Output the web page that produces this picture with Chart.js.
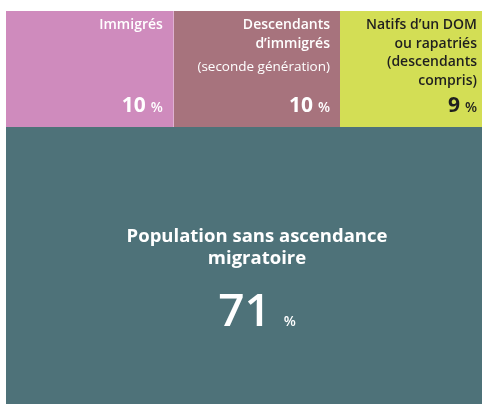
<!DOCTYPE html>
<html>
<head>
<meta charset="utf-8">
<script src="https://cdn.jsdelivr.net/npm/chart.js@4/dist/chart.umd.min.js"></script>
<style>
  body { margin: 0; background: #ffffff; }
</style>
</head>
<body>
<canvas id="treemap" width="482" height="404"></canvas>

<script>
  // Données : part de la population (%)
  const categories = [
    "Immigrés",
    "Descendants d’immigrés (seconde génération)",
    "Natifs d’un DOM ou rapatriés (descendants compris)",
    "Population sans ascendance migratoire",
  ];
  const shares = [10.4, 10.3, 8.8, 70.5];
  const shownValues = [10, 10, 9, 71]; // valeurs affichées (arrondies)

  // Lignes de texte de chaque pavé
  const titleLines = [
    ["Immigrés"],
    ["Descendants", "d’immigrés"],
    ["Natifs d’un DOM", "ou rapatriés", "(descendants", "compris)"],
    ["Population sans ascendance", "migratoire"],
  ];
  const noteLines = ["", "(seconde génération)", "", ""];

  const colors = ["#cf8bbd", "#a7737d", "#d3de55", "#4e7279"];
  const textColors = ["#ffffff", "#ffffff", "#1f1f1f", "#ffffff"];
  const rightPad = [11, 10, 5];

  // Pavés : rangée du haut (3 premières catégories) + grand pavé du bas
  const topSum = shares[0] + shares[1] + shares[2];
  const rects = [];
  let cum = 0;
  for (let i = 0; i < 3; i++) {
    rects.push({ x0: cum, x1: cum + shares[i], y0: 100 - topSum, y1: 100 });
    cum += shares[i];
  }
  rects.push({ x0: 0, x1: topSum, y0: 0, y1: 100 - topSum });

  const sepColor = "rgba(255,255,255,0.75)";

  const datasets = rects.map((r, i) => ({
    label: categories[i],
    data: [
      { x: r.x0, y: r.y1 },
      { x: r.x1, y: r.y1 },
    ],
    backgroundColor: colors[i],
    borderWidth: 0,
    pointRadius: 0,
    fill: { value: r.y0 },
  }));

  // Séparateurs fins entre les pavés
  datasets.push({
    data: [
      { x: 0, y: 100 - topSum },
      { x: topSum, y: 100 - topSum },
    ],
    borderColor: sepColor,
    borderWidth: 1,
    pointRadius: 0,
    fill: false,
  });
  for (let i = 0; i < 2; i++) {
    datasets.push({
      data: [
        { x: rects[i].x1, y: 100 - topSum },
        { x: rects[i].x1, y: 100 },
      ],
      borderColor: sepColor,
      borderWidth: 1,
      pointRadius: 0,
      fill: false,
    });
  }

  const FONT = "'Open Sans', 'Noto Sans', sans-serif";

  // Textes des pavés
  const labelsPlugin = {
    id: "treemapLabels",
    afterDatasetsDraw(chart) {
      const ctx = chart.ctx;
      const xs = chart.scales.x;
      const ys = chart.scales.y;
      ctx.save();
      ctx.textBaseline = "alphabetic";

      for (let i = 0; i < 3; i++) {
        const r = rects[i];
        const right = xs.getPixelForValue(r.x1) - rightPad[i];
        const top = ys.getPixelForValue(r.y1);
        const bottom = ys.getPixelForValue(r.y0);
        ctx.fillStyle = textColors[i];
        ctx.textAlign = "right";

        ctx.font = "600 14px " + FONT;
        let y = top + 18;
        titleLines[i].forEach((line) => {
          ctx.fillText(line, right, y);
          y += 18.5;
        });
        if (noteLines[i]) {
          ctx.font = "400 13.5px " + FONT;
          ctx.fillText(noteLines[i], right, y + 5);
        }

        // valeur
        const vy = bottom - 15;
        ctx.font = "600 14px " + FONT;
        ctx.fillText("%", right, vy);
        const pw = ctx.measureText("%").width;
        ctx.font = "700 21px " + FONT;
        ctx.fillText(String(shownValues[i]), right - pw - 5, vy);
      }

      // grand pavé
      const r = rects[3];
      const cx = (xs.getPixelForValue(r.x0) + xs.getPixelForValue(r.x1)) / 2 + 13;
      const top = ys.getPixelForValue(r.y1);
      ctx.fillStyle = textColors[3];
      ctx.textAlign = "center";
      ctx.font = "700 18.5px " + FONT;
      let y = top + 115;
      titleLines[3].forEach((line) => {
        ctx.fillText(line, cx, y);
        y += 22;
      });

      const gap = 13;
      ctx.font = "600 46px " + FONT;
      const num = String(shownValues[3]);
      const nw = ctx.measureText(num).width;
      ctx.font = "600 14px " + FONT;
      const pw = ctx.measureText("%").width;
      const total = nw + gap + pw;
      const left = cx - total / 2;
      ctx.textAlign = "left";
      ctx.font = "600 46px " + FONT;
      ctx.fillText(num, left, top + 199);
      ctx.font = "600 14px " + FONT;
      ctx.fillText("%", left + nw + gap, top + 199);

      ctx.restore();
    },
  };

  new Chart(document.getElementById("treemap").getContext("2d"), {
    type: "line",
    data: { datasets },
    options: {
      responsive: false,
      animation: false,
      layout: { padding: { left: 6, top: 11, right: 0, bottom: 0 } },
      plugins: {
        legend: { display: false },
        tooltip: { enabled: false },
      },
      scales: {
        x: { type: "linear", min: 0, max: topSum, display: false },
        y: { type: "linear", min: 0, max: 100, display: false },
      },
    },
    plugins: [labelsPlugin],
  });
</script>
</body>
</html>
